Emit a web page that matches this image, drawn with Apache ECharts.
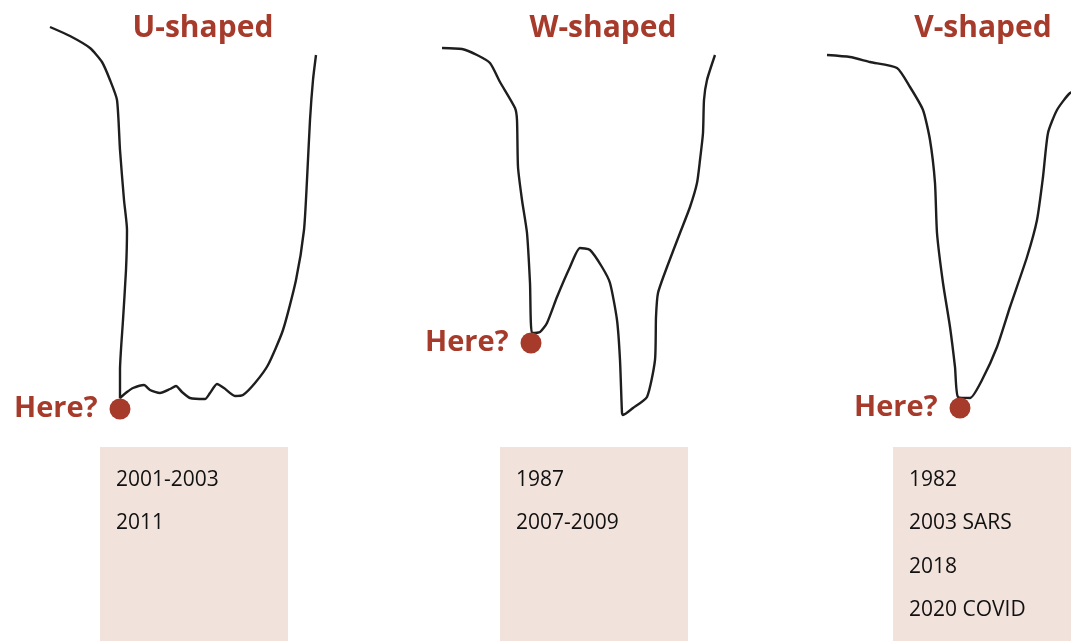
<!DOCTYPE html>
<html>
<head>
<meta charset="utf-8">
<script src="https://cdn.jsdelivr.net/npm/echarts@6/dist/echarts.min.js"></script>
<style>
  html, body { margin: 0; padding: 0; background: #fff; }
  #main { width: 1071px; height: 641px; }
</style>
</head>
<body>
<div id="main"></div>
<script>
// recovery shapes (x right, y down)
var uCurve = [[50,27],[70,36],[90,48],[102,62],[110,80],[117,100],[120,150],[124,200],[127,230],[126,270],[123,320],[120,370],[120,398],
  [127,392],[133,388],[144,385],[150,390],[160,393],[170,389],[176,386],[182,392],[190,398],[205,399],[210,393],[217,384],[224,388],
  [235,396],[243,395],[255,383],[268,365],[283,330],[296,280],[304,230],[307,180],[310,120],[313,80],[316,55]];
var wCurve = [[442,48],[462,49],[477,55],[490,63],[500,82],[515,108],[517,120],[518,167],[522,200],[527,233],[530,283],[532,333],
  [540,332],[547,323],[557,297],[570,267],[580,248],[590,250],[602,267],[610,283],[617,320],[620,360],[622,413],[623,415],
  [633,408],[647,397],[655,360],[656,317],[658,293],[667,267],[680,233],[690,207],[697,183],[700,160],[703,133],[704,100],[707,80],[715,55]];
var vCurve = [[827,55],[850,57],[870,62],[897,68],[910,87],[923,110],[930,140],[935,183],[937,233],[943,283],[950,327],[955,367],[958,397],
  [970,398],[982,380],[997,347],[1010,307],[1027,257],[1037,220],[1043,177],[1048,133],[1057,110],[1070,93],[1085,86]];

var shapeNames = ['U-shaped', 'W-shaped', 'V-shaped'];
var hereDots = [[120,409],[531,343],[960,408]];
var episodes = [
  ['2001-2003', '2011'],
  ['1987', '2007-2009'],
  ['1982', '2003 SARS', '2018', '2020 COVID']
];
var boxAreas = [[[100,447],[288,641]], [[500,447],[688,641]], [[893,447],[1071,641]]];
var titleX = [203, 603, 983];

var red = '#a63a2b';
var myChart = echarts.init(document.getElementById('main'));

function curve(name, data) {
  return {
    name: name, type: 'line', data: data, symbol: 'none', smooth: 0.2,
    lineStyle: { color: '#1e1e1e', width: 2.4 }, silent: true, z: 2
  };
}

// one text item per episode line, placed inside its box
var episodeItems = [];
episodes.forEach(function (list, i) {
  list.forEach(function (t, j) {
    episodeItems.push({ value: [boxAreas[i][0][0] + 16, 480 + j * 43.5], name: t });
  });
});

var option = {
  animation: false,
  grid: { left: 0, right: 0, top: 0, bottom: 0 },
  xAxis: { type: 'value', min: 0, max: 1071, show: false },
  yAxis: { type: 'value', min: 0, max: 641, inverse: true, show: false },
  graphic: shapeNames.map(function (t, i) {
    return {
      type: 'text', x: titleX[i], y: 28,
      style: { text: t, fill: red, font: 'bold 30px "Open Sans"', textAlign: 'center', textVerticalAlign: 'middle' }
    };
  }),
  series: [
    {
      type: 'line', data: [[0, 0]], symbol: 'none', lineStyle: { width: 0 }, z: 1,
      markArea: {
        silent: true,
        itemStyle: { color: '#f2e2dc' },
        label: { show: false },
        data: boxAreas.map(function (a) {
          return [{ coord: a[0] }, { coord: a[1] }];
        })
      }
    },
    curve('U', uCurve),
    curve('W', wCurve),
    curve('V', vCurve),
    {
      type: 'scatter', data: hereDots, symbolSize: 21, z: 5,
      itemStyle: { color: red, opacity: 1 },
      label: {
        show: true, position: 'left', distance: 12, formatter: 'Here?',
        color: red, fontFamily: 'Open Sans', fontWeight: 'bold', fontSize: 29
      }
    },
    {
      type: 'scatter', data: episodeItems, symbolSize: 0, z: 6, silent: true,
      itemStyle: { opacity: 1 },
      label: {
        show: true, position: 'right', distance: 0, formatter: '{b}',
        color: '#111', fontFamily: 'Open Sans', fontSize: 21, letterSpacing: 0.5
      }
    }
  ]
};
myChart.setOption(option);
</script>
</body>
</html>
